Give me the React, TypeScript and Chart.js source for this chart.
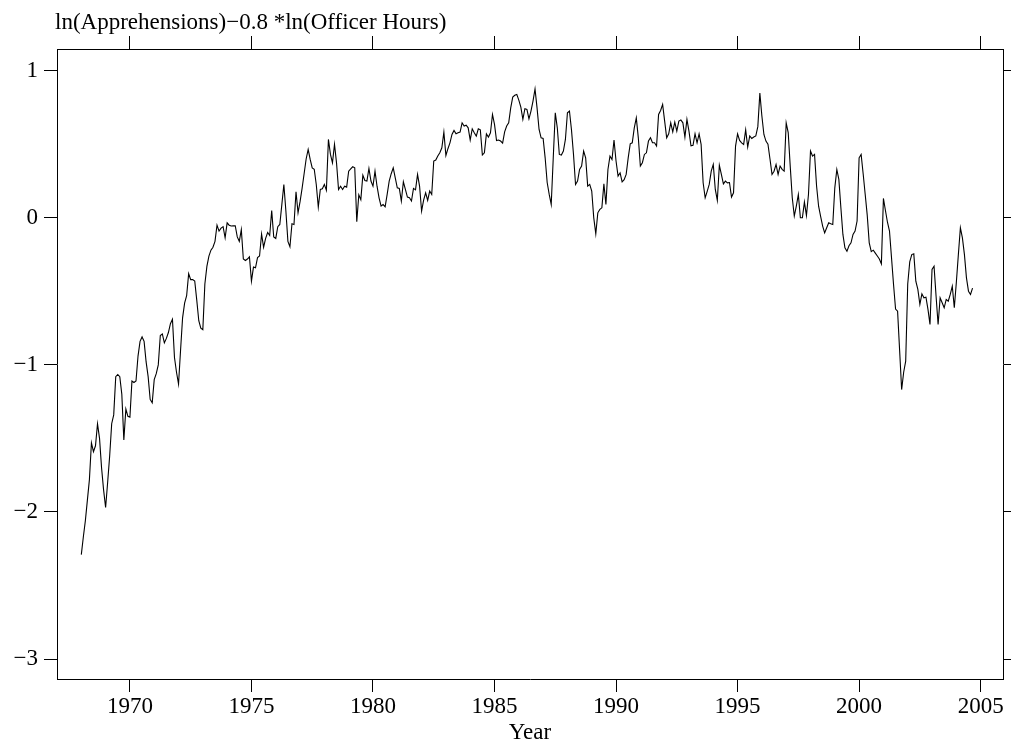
import React, { useEffect, useRef } from "react";
import { Chart, registerables } from "chart.js";

Chart.register(...registerables);

// Monthly series, January 1968 onwards
const START_YEAR = 1968;
const VALUES: number[] = [
  // 1968
  -2.29, -2.17, -2.06, -1.92, -1.78, -1.53, -1.59, -1.55, -1.40, -1.50, -1.70, -1.85,
  // 1969
  -1.97, -1.80, -1.62, -1.40, -1.34, -1.08, -1.065, -1.08, -1.20, -1.51, -1.30, -1.35,
  // 1970
  -1.356, -1.11, -1.12, -1.11, -0.94, -0.84, -0.81, -0.84, -0.98, -1.08, -1.235, -1.258,
  // 1971
  -1.10, -1.06, -1.00, -0.80, -0.79, -0.85, -0.82, -0.78, -0.72, -0.69, -0.95, -1.05,
  // 1972
  -1.13, -0.90, -0.68, -0.58, -0.53, -0.38, -0.42, -0.42, -0.43, -0.56, -0.70, -0.75,
  // 1973
  -0.76, -0.45, -0.33, -0.26, -0.22, -0.20, -0.16, -0.05, -0.09, -0.07, -0.06, -0.136,
  // 1974
  -0.034, -0.05, -0.056, -0.055, -0.054, -0.13, -0.16, -0.08, -0.28, -0.29, -0.28, -0.265,
  // 1975
  -0.43, -0.335, -0.34, -0.27, -0.26, -0.11, -0.20, -0.14, -0.10, -0.12, 0.05, -0.13,
  // 1976
  -0.14, -0.06, -0.045, 0.09, 0.227, 0.046, -0.16, -0.197, -0.04, -0.045, 0.177, 0.034,
  // 1977
  0.11, 0.20, 0.30, 0.40, 0.465, 0.397, 0.34, 0.33, 0.227, 0.073, 0.193, 0.197,
  // 1978
  0.227, 0.187, 0.533, 0.431, 0.374, 0.50, 0.374, 0.193, 0.215, 0.193, 0.215, 0.209,
  // 1979
  0.317, 0.333, 0.347, 0.34, -0.027, 0.157, 0.124, 0.29, 0.254, 0.25, 0.336, 0.25,
  // 1980
  0.215, 0.317, 0.215, 0.136, 0.08, 0.09, 0.075, 0.16, 0.25, 0.30, 0.34, 0.272,
  // 1981
  0.204, 0.20, 0.114, 0.245, 0.193, 0.141, 0.136, 0.114, 0.20, 0.19, 0.295, 0.216,
  // 1982
  0.046, 0.12, 0.17, 0.118, 0.182, 0.159, 0.386, 0.393, 0.42, 0.442, 0.476, 0.583,
  // 1983
  0.424, 0.47, 0.51, 0.567, 0.594, 0.571, 0.578, 0.583, 0.646, 0.624, 0.63, 0.612,
  // 1984
  0.529, 0.605, 0.578, 0.556, 0.605, 0.598, 0.427, 0.442, 0.571, 0.549, 0.578, 0.703,
  // 1985
  0.635, 0.526, 0.529, 0.522, 0.508, 0.585, 0.624, 0.646, 0.748, 0.821, 0.833, 0.839,
  // 1986
  0.80, 0.753, 0.669, 0.742, 0.737, 0.673, 0.726, 0.794, 0.876, 0.748, 0.601, 0.544,
  // 1987
  0.54, 0.408, 0.24, 0.159, 0.091, 0.408, 0.714, 0.612, 0.431, 0.427, 0.454, 0.533,
  // 1988
  0.714, 0.726, 0.598, 0.431, 0.227, 0.25, 0.329, 0.352, 0.454, 0.408, 0.216, 0.227,
  // 1989
  0.182, 0.0, -0.109, 0.034, 0.057, 0.068, 0.231, 0.091, 0.329, 0.42, 0.397, 0.529,
  // 1990
  0.386, 0.284, 0.306, 0.245, 0.26, 0.295, 0.408, 0.503, 0.51, 0.612, 0.68, 0.544,
  // 1991
  0.352, 0.375, 0.431, 0.442, 0.522, 0.544, 0.51, 0.51, 0.488, 0.703, 0.73, 0.771,
  // 1992
  0.658, 0.544, 0.571, 0.646, 0.585, 0.651, 0.59, 0.658, 0.665, 0.646, 0.549, 0.669,
  // 1993
  0.59, 0.49, 0.493, 0.571, 0.51, 0.571, 0.499, 0.238, 0.136, 0.18, 0.227, 0.318,
  // 1994
  0.363, 0.193, 0.118, 0.358, 0.295, 0.231, 0.25, 0.238, 0.24, 0.141, 0.17, 0.488,
  // 1995
  0.571, 0.526, 0.51, 0.499, 0.598, 0.481, 0.557, 0.54, 0.55, 0.557, 0.62, 0.848,
  // 1996
  0.692, 0.567, 0.522, 0.50, 0.40, 0.295, 0.317, 0.363, 0.295, 0.352, 0.33, 0.318,
  // 1997
  0.646, 0.58, 0.35, 0.136, 0.012, 0.08, 0.159, 0.0, 0.0, 0.107, 0.016, 0.159,
  // 1998
  0.454, 0.42, 0.431, 0.216, 0.079, 0.01, -0.056, -0.102, -0.068, -0.034, -0.04, -0.045,
  // 1999
  0.204, 0.329, 0.261, 0.068, -0.113, -0.204, -0.227, -0.19, -0.17, -0.113, -0.09, -0.022,
  // 2000
  0.408, 0.431, 0.30, 0.16, 0.02, -0.17, -0.23, -0.22, -0.24, -0.26, -0.28, -0.313,
  // 2001
  0.132, 0.05, -0.03, -0.09, -0.272, -0.453, -0.62, -0.635, -0.90, -1.168, -1.05, -0.975,
  // 2002
  -0.45, -0.30, -0.25, -0.245, -0.431, -0.487, -0.589, -0.517, -0.544, -0.54, -0.623, -0.725,
  // 2003
  -0.351, -0.329, -0.533, -0.725, -0.544, -0.578, -0.612, -0.555, -0.567, -0.521, -0.465, -0.612,
  // 2004
  -0.44, -0.25, -0.068, -0.136, -0.25, -0.408, -0.499, -0.521, -0.478,
];

const X_TICKS = [1970, 1975, 1980, 1985, 1990, 1995, 2000, 2005];
const Y_TICKS = [-3, -2, -1, 0, 1];
const X_MIN = 1967.0;
const X_MAX = 2005.92;
const Y_MIN = -3.136;
const Y_MAX = 1.148;

const TITLE = "ln(Apprehensions)\u22120.8 *ln(Officer Hours)";
const X_LABEL = "Year";

const FONT_FAMILY = "'Liberation Serif', 'Times New Roman', serif";
const INK = "#000000";

const titlePlugin = {
  id: "topTitle",
  afterDraw(chart: any) {
    const ctx = chart.ctx;
    ctx.save();
    ctx.fillStyle = INK;
    ctx.font = `23px ${FONT_FAMILY}`;
    ctx.textAlign = "left";
    ctx.textBaseline = "alphabetic";
    ctx.fillText(TITLE, 55, 29);
    ctx.restore();
  },
};

function fmtY(v: number): string {
  return v < 0 ? "\u2212" + Math.abs(v) : String(v);
}

export default function App() {
  const ref = useRef<HTMLCanvasElement | null>(null);

  useEffect(() => {
    if (!ref.current) return;
    const points = VALUES.map((v, i) => ({ x: START_YEAR + i / 12, y: v }));

    const gridCommon = {
      drawOnChartArea: false,
      drawTicks: true,
      tickLength: 13,
      color: INK,
      lineWidth: 1,
    };
    const borderCommon = { display: true, color: INK, width: 1 };

    const chart = new Chart(ref.current, {
      type: "line",
      data: {
        datasets: [
          {
            data: points,
            borderColor: INK,
            borderWidth: 1.1,
            pointRadius: 0,
            tension: 0,
            fill: false,
          },
        ],
      },
      options: {
        animation: false,
        responsive: false,
        maintainAspectRatio: false,
        layout: { padding: 0 },
        plugins: {
          legend: { display: false },
          tooltip: { enabled: false },
          title: { display: false },
        },
        scales: {
          x: {
            type: "linear",
            position: "bottom",
            min: X_MIN,
            max: X_MAX,
            afterBuildTicks: (s: any) => {
              s.ticks = X_TICKS.map((v) => ({ value: v }));
            },
            afterFit: (s: any) => {
              s.height = 65;
            },
            ticks: {
              color: INK,
              font: { family: FONT_FAMILY, size: 23 },
              padding: 1,
              maxRotation: 0,
              autoSkip: false,
              callback: (v: any) => String(v),
            },
            grid: gridCommon,
            border: borderCommon,
            title: {
              display: true,
              text: X_LABEL,
              color: INK,
              font: { family: FONT_FAMILY, size: 23, lineHeight: 1.0 },
              padding: 0,
            },
          },
          x2: {
            type: "linear",
            position: "top",
            min: X_MIN,
            max: X_MAX,
            afterBuildTicks: (s: any) => {
              s.ticks = X_TICKS.map((v) => ({ value: v }));
            },
            afterFit: (s: any) => {
              s.height = 49;
            },
            ticks: { display: false },
            grid: gridCommon,
            border: borderCommon,
          },
          y: {
            type: "linear",
            position: "left",
            min: Y_MIN,
            max: Y_MAX,
            afterBuildTicks: (s: any) => {
              s.ticks = Y_TICKS.map((v) => ({ value: v }));
            },
            afterFit: (s: any) => {
              s.width = 57;
            },
            ticks: {
              color: INK,
              font: { family: FONT_FAMILY, size: 23 },
              padding: 6,
              autoSkip: false,
              callback: (v: any) => fmtY(Number(v)),
            },
            grid: gridCommon,
            border: borderCommon,
          },
          y2: {
            type: "linear",
            position: "right",
            min: Y_MIN,
            max: Y_MAX,
            afterBuildTicks: (s: any) => {
              s.ticks = Y_TICKS.map((v) => ({ value: v }));
            },
            afterFit: (s: any) => {
              s.width = 8;
            },
            ticks: { display: false },
            grid: gridCommon,
            border: borderCommon,
          },
        },
      },
      plugins: [titlePlugin],
    } as any);

    return () => chart.destroy();
  }, []);

  return (
    <div
      style={{
        position: "absolute",
        left: 0,
        top: 0,
        width: 1011,
        height: 744,
        background: "#ffffff",
      }}
    >
      <canvas ref={ref} width={1011} height={744} style={{ width: 1011, height: 744 }} />
    </div>
  );
}
